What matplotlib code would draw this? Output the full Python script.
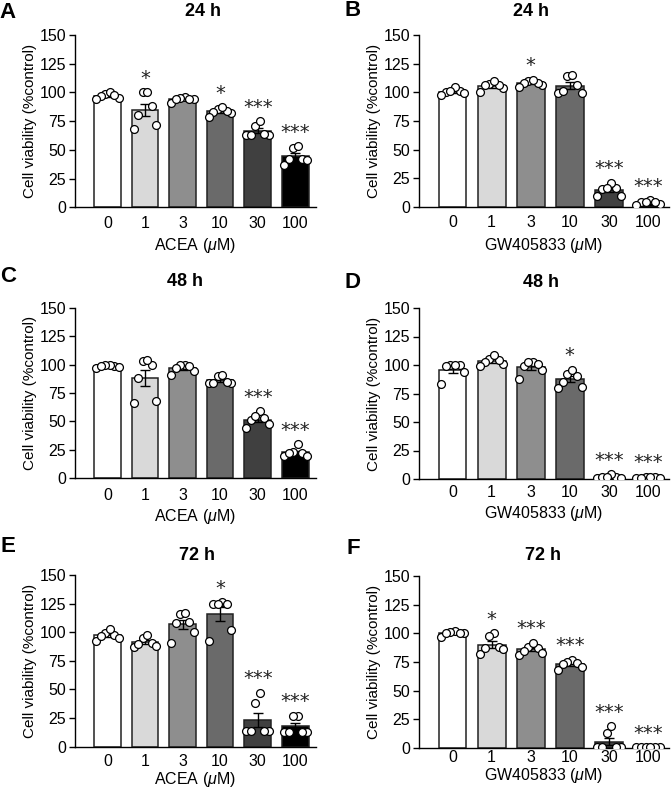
import matplotlib
matplotlib.use("Agg")
import matplotlib.pyplot as plt
import numpy as np

plt.rcParams['font.family'] = ['Liberation Sans', 'DejaVu Sans']
plt.rcParams['mathtext.fontset'] = 'custom'
plt.rcParams['mathtext.rm'] = 'Liberation Sans'
plt.rcParams['mathtext.it'] = 'Liberation Sans:italic'

doses = ['0', '1', '3', '10', '30', '100']
bar_colors = ['#ffffff', '#d9d9d9', '#8e8e8e', '#6a6a6a', '#404040', '#000000']

# individual points (% control), six per dose
acea_24 = [[95, 99, 100, 97, 94, 98], [100, 100, 88, 80, 68, 72], [94, 96, 95, 94, 91, 94],
           [82, 86, 83, 84, 87, 79], [63, 71, 75, 63, 63, 64], [37, 52, 53, 42, 41, 42]]
gw_24 = [[100, 101, 105, 99, 101, 98], [104, 107, 106, 106, 100, 110], [106, 110, 108, 108, 111, 105],
         [99, 114, 115, 101, 106, 99], [16, 10, 17, 10, 21, 17], [3, 6, 4, 4, 2, 4]]
acea_48 = [[99, 100, 100, 97, 99, 98], [103, 100, 104, 88, 66, 68], [100, 91, 100, 94, 99, 97],
           [84, 90, 91, 84, 84, 85], [59, 44, 51, 53, 55, 48], [20, 23, 30, 22, 22, 20]]
gw_48 = [[100, 100, 99, 94, 100, 83], [101, 105, 103, 104, 109, 99], [103, 99, 103, 96, 101, 88],
         [92, 96, 85, 90, 80, 81], [2, 4, 1, 2, 1, 2], [1, 2, 2, 1, 2, 1]]
acea_72 = [[99, 92, 98, 97, 103, 95], [95, 87, 91, 90, 98, 88], [116, 109, 108, 100, 91, 117],
           [125, 126, 125, 125, 102, 92], [14, 47, 14, 38, 14, 14], [13, 27, 13, 27, 13, 13]]
gw_72 = [[100, 102, 101, 100, 97, 100], [100, 82, 98, 88, 87, 86], [87, 81, 88, 85, 92, 83],
         [77, 68, 74, 71, 75, 73], [0.5, 0.5, 13, 19, 0.5, 0.5], [0.5, 0.5, 0.5, 0.5, 0.5, 0.5]]

stars_acea_24 = ['', '*', '', '*', '***', '***']
stars_gw_24 = ['', '', '*', '', '***', '***']
stars_acea_48 = ['', '', '', '', '***', '***']
stars_gw_48 = ['', '', '', '*', '***', '***']
stars_acea_72 = ['', '', '', '*', '***', '***']
stars_gw_72 = ['', '*', '***', '***', '***', '***']

W, H = 672, 794
fig = plt.figure(figsize=(W / 100, H / 100), dpi=100)


def box(l, t, r, b):
    return [l / W, 1 - b / H, (r - l) / W, (b - t) / H]


panels = [
    ('A', '24 h', 'ACEA', acea_24, stars_acea_24, box(75, 35, 315.6, 207.3), (8, 12), (203, 12), (6, 4)),
    ('B', '24 h', 'GW405833', gw_24, stars_gw_24, box(419, 35, 669, 207), (353, 11), (531, 12), (6, 4)),
    ('C', '48 h', 'ACEA', acea_48, stars_acea_48, box(75, 307.7, 315.6, 478.3), (8, 277), (185, 282), (7, 3)),
    ('D', '48 h', 'GW405833', gw_48, stars_gw_48, box(419, 308, 669, 479), (353, 283), (541, 283), (4, 3)),
    ('E', '72 h', 'ACEA', acea_72, stars_acea_72, box(75, 575, 315.6, 746.7), (8, 547), (197, 555), (5, 1)),
    ('F', '72 h', 'GW405833', gw_72, stars_gw_72, box(419, 576, 669, 748), (353, 548), (543, 555), (1.5, 0.5)),
]

x = np.arange(len(doses))
offs = np.linspace(-0.3, 0.3, 6)

for letter, title, drug, pts, stars, rect, lpos, tpos, pads in panels:
    ax = fig.add_axes(rect)
    pts = np.array(pts, dtype=float)
    means = pts.mean(axis=1)
    sems = pts.std(axis=1, ddof=1) / np.sqrt(pts.shape[1])
    ax.bar(x, means, width=0.71, color=bar_colors, edgecolor='#222222', linewidth=1.1, zorder=1)
    ax.errorbar(x, means, yerr=sems, fmt='none', ecolor='black', elinewidth=1.0,
                capsize=3.5, capthick=1.0, zorder=2)
    for i in range(len(doses)):
        order = np.argsort(pts[i])
        xs = np.empty(6)
        xs[order] = x[i] + offs[[0, 5, 1, 4, 2, 3]]
        ax.scatter(xs, pts[i], s=32, facecolor='white', edgecolor='black', linewidth=0.9, zorder=3)
        if stars[i]:
            ax.text(x[i], pts[i].max() + 4, stars[i], ha='center', va='bottom',
                    fontsize=14, family='DejaVu Sans', color='#222222')
    ax.set_xlim(-0.86, 5.54)
    ax.set_ylim(0, 150)
    ax.set_yticks([0, 25, 50, 75, 100, 125, 150])
    ax.set_xticks(x)
    ax.set_xticklabels(doses)
    ax.tick_params(axis='x', length=0, labelsize=11.5, pad=pads[0])
    ax.tick_params(axis='y', length=4.5, width=1.0, labelsize=11.5, pad=2)
    for s in ['top', 'right']:
        ax.spines[s].set_visible(False)
    for s in ['left', 'bottom']:
        ax.spines[s].set_linewidth(1.0)
    ax.set_xlabel(drug + r' ($\mathit{\mu}$M)', fontsize=11.5, labelpad=pads[1])
    ax.set_ylabel('Cell viability (%control)', fontsize=11, labelpad=2)
    fig.text(lpos[0] / W, 1 - lpos[1] / H, letter, fontsize=16, fontweight='bold',
             ha='center', va='center')
    fig.text(tpos[0] / W, 1 - tpos[1] / H, title, fontsize=13, fontweight='bold',
             ha='center', va='center')

fig.savefig('out.png', dpi=100)
